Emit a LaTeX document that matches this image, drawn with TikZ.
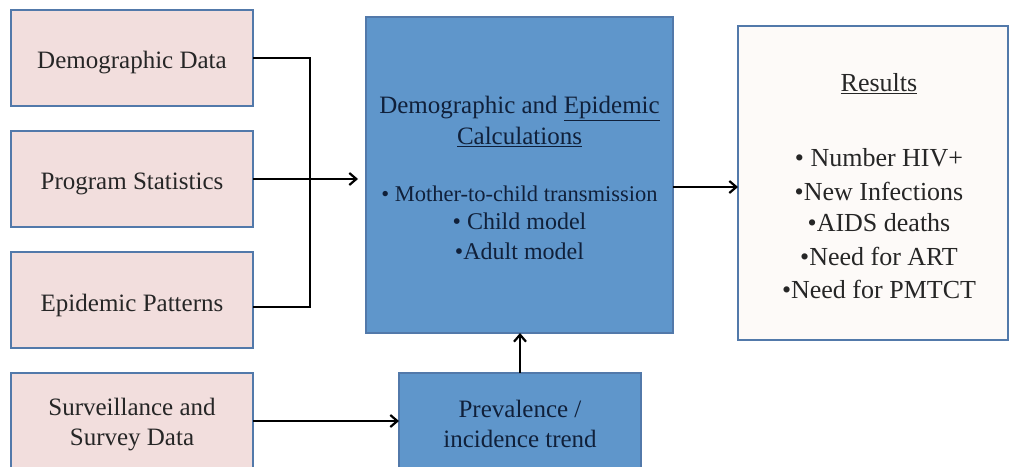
\documentclass[tikz,border=0pt]{standalone}
\usepackage{fontspec}
\setmainfont{Liberation Serif}
\usetikzlibrary{arrows.meta}
\definecolor{pinkfill}{HTML}{F2DEDD}
\definecolor{boxborder}{HTML}{5279AA}
\definecolor{bluefill}{HTML}{5F96CB}
\definecolor{navytext}{HTML}{10203A}
\definecolor{resfill}{HTML}{FDFAF8}
\tikzset{
  inbox/.style={draw=boxborder, line width=2pt, fill=pinkfill, minimum width=242pt, minimum height=96pt, anchor=north west, outer sep=0pt, inner sep=0pt},
  intext/.style={align=center, inner sep=0pt, font=\fontsize{25}{30}\selectfont, text=black!85},
  calcbox/.style={draw=boxborder, line width=2pt, fill=bluefill, anchor=north west, outer sep=0pt, inner sep=0pt},
  resbox/.style={draw=boxborder, line width=2pt, fill=resfill, anchor=north west, outer sep=0pt, inner sep=0pt},
  calcline/.style={text=navytext, inner sep=0pt, align=center},
  resline/.style={text=black!85, inner sep=0pt, font=\fontsize{26}{30}\selectfont},
  conn/.style={line width=2.4pt, black},
  arr/.style={conn, -{Straight Barb[length=7pt,width=12pt,line width=2.2pt]}}
}
\begin{document}
\begin{tikzpicture}[x=1pt,y=-1pt]
\useasboundingbox (0,0) rectangle (1009,466);
\clip (0,0) rectangle (1009,466);
\fill[white] (0,0) rectangle (1009,466);
\node[inbox] (dd) at (11,10) {};
\node[inbox] (ps) at (11,131) {};
\node[inbox] (ep) at (11,252) {};
\node[inbox] (sv) at (11,373) {};
\node[intext] (ddt) at ([yshift=-5pt]dd.center) {Demographic Data};
\node[intext] (pst) at ([yshift=-5pt]ps.center) {Program Statistics};
\node[intext] (ept) at ([yshift=-5pt]ep.center) {Epidemic Patterns};
\node[intext] (svt) at ([yshift=-4pt]sv.center) {Surveillance and\\Survey Data};
\node[calcbox, minimum width=307pt, minimum height=316pt] (calc) at (366,17) {};
\node[calcline, font=\fontsize{25}{30}\selectfont] (c1) at (519.5,108) {Demographic and \underline{Epidemic}};
\node[calcline, font=\fontsize{25}{30}\selectfont] (c2) at (519.5,137) {\underline{Calculations}};
\node[calcline, font=\fontsize{22.5}{30}\selectfont] (c3) at (519.5,194) {• Mother-to-child transmission};
\node[calcline, font=\fontsize{24}{30}\selectfont] (c4) at (519.5,221) {• Child model};
\node[calcline, font=\fontsize{24}{30}\selectfont] (c5) at (519.5,251) {•Adult model};
\node[resbox, minimum width=270pt, minimum height=314pt] (res) at (738,26) {};
\node[resline] (r0) at (879,84) {\underline{Results}};
\node[resline] (r1) at (879,158) {• Number HIV+};
\node[resline] (r2) at (879,191) {•New Infections};
\node[resline] (r3) at (879,223) {•AIDS deaths};
\node[resline] (r4) at (879,256) {•Need for ART};
\node[resline] (r5) at (879,289) {•Need for PMTCT};
\node[calcbox, minimum width=242pt, minimum height=96pt] (pv) at (399,373) {};
\node[calcline, font=\fontsize{25}{30}\selectfont] (pvt) at ([yshift=-3pt]pv.center) {Prevalence /\\incidence trend};
\coordinate (busx) at (310,0);
\draw[conn] (dd.east) -| ([yshift=-7pt]ep.east -| busx) -- ([yshift=-7pt]ep.east);
\draw[arr] (ps.east) -- ([xshift=-8pt]ps.east -| calc.west);
\draw[arr] ([yshift=-12pt]calc.east) -- ([yshift=-12pt]calc.east -| res.west);
\draw[arr] (sv.east) -- (sv.east -| pv.west);
\draw[arr] (pv.north) -- (pv.north |- calc.south);
\end{tikzpicture}
\end{document}
